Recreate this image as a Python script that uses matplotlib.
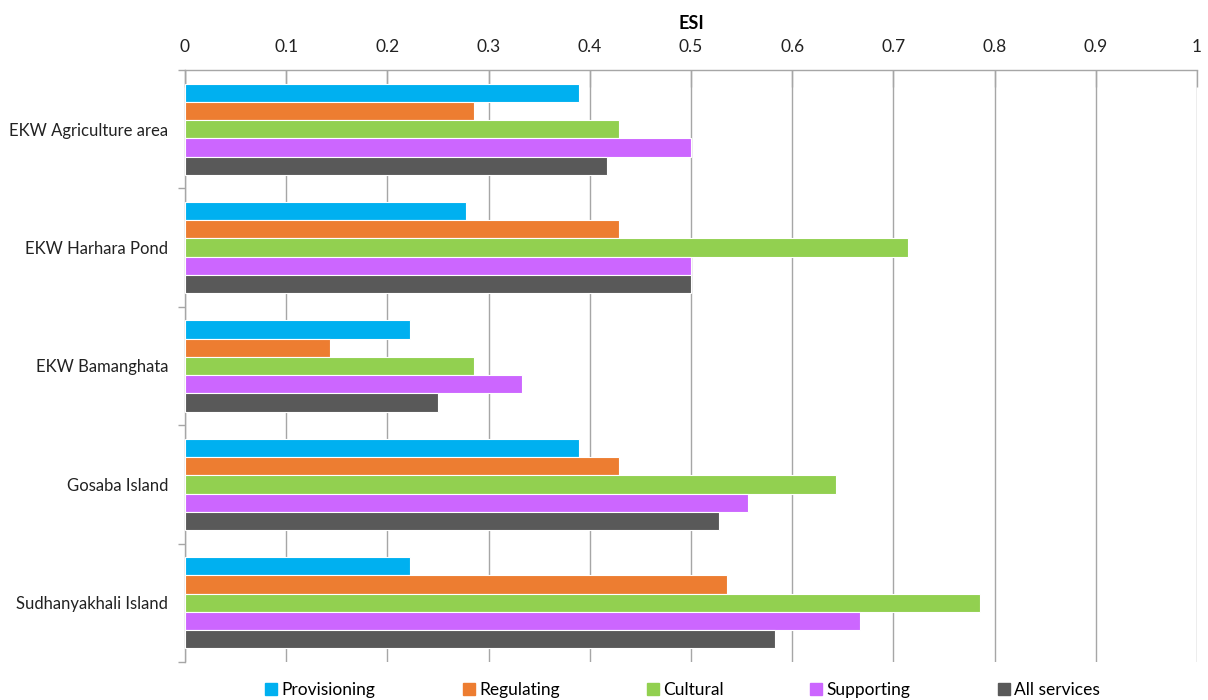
import matplotlib
matplotlib.use("Agg")
import matplotlib.pyplot as plt
import numpy as np
from matplotlib.lines import Line2D

categories = ["EKW Agriculture area", "EKW Harhara Pond", "EKW Bamanghata",
              "Gosaba Island", "Sudhanyakhali Island"]
series_names = ["Provisioning", "Regulating", "Cultural", "Supporting", "All services"]
provisioning = [0.389, 0.278, 0.222, 0.389, 0.222]
regulating = [0.286, 0.429, 0.143, 0.429, 0.536]
cultural = [0.429, 0.714, 0.286, 0.643, 0.786]
supporting = [0.500, 0.500, 0.333, 0.556, 0.667]
all_services = [0.417, 0.500, 0.250, 0.528, 0.583]
x_ticks = [0, 0.1, 0.2, 0.3, 0.4, 0.5, 0.6, 0.7, 0.8, 0.9, 1]
x_tick_labels = ["0", "0.1", "0.2", "0.3", "0.4", "0.5", "0.6", "0.7", "0.8", "0.9", "1"]

colors = ["#00B0F0", "#ED7D31", "#92D050", "#CC66FF", "#595959"]
series = [provisioning, regulating, cultural, supporting, all_services]

plt.rcParams['font.family'] = ['Lato', 'DejaVu Sans']

fig = plt.figure(figsize=(12.08, 7.0), dpi=100)
ax = fig.add_axes([185/1208, 1-662/700, (1197-185)/1208, (662-70)/700])

n = len(categories)
h = 0.154
for i, (vals, c, name) in enumerate(zip(series, colors, series_names)):
    y = np.arange(n) + (i - 2) * h
    ax.barh(y, vals, height=h, color=c, edgecolor="white", linewidth=0.8, label=name, zorder=3)

ax.set_ylim(n - 0.5, -0.5)
ax.set_xlim(0, 1)
ax.xaxis.tick_top()
ax.xaxis.set_label_position("top")
ax.set_xticks(x_ticks)
ax.set_xticklabels(x_tick_labels, fontsize=12.5, color="#222222")
ax.set_xlabel("ESI", fontsize=13, fontweight="bold", labelpad=7)
ax.tick_params(axis="x", direction="in", length=12, color="#A6A6A6", width=1, pad=11)

ax.set_yticks(np.arange(n))
ax.set_yticklabels(categories, fontsize=12, color="#222222")
ax.tick_params(axis="y", length=0, pad=12)
ax.set_yticks(np.arange(-0.5, n, 1), minor=True)
ax.tick_params(axis="y", which="minor", length=5, color="#A6A6A6", width=1, direction="out")

ax.grid(axis="x", color="#A6A6A6", linewidth=1, zorder=0)
for s in ["right", "bottom"]:
    ax.spines[s].set_visible(False)
for s in ["top", "left"]:
    ax.spines[s].set_color("#A6A6A6")
    ax.spines[s].set_linewidth(1)

handles = [Line2D([0], [0], marker="s", linestyle="none", markersize=8,
                  markerfacecolor=c, markeredgecolor=c) for c in colors]
fig.legend(handles, series_names, loc="center", bbox_to_anchor=(0.564, 0.014), ncol=5,
           frameon=False, fontsize=12.5, handletextpad=0.1, columnspacing=4.85,
           handlelength=1.0)

fig.savefig("out.png", dpi=100)
